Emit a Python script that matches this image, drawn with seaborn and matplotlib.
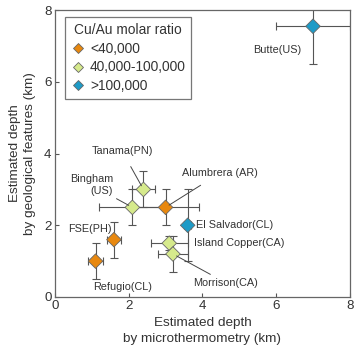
import numpy as np
import pandas as pd
import matplotlib
matplotlib.use("Agg")
import matplotlib.pyplot as plt
import seaborn as sns

# data
names = ["Refugio(CL)", "FSE(PH)", "Bingham(US)", "Tanama(PN)", "Alumbrera (AR)",
         "El Salvador(CL)", "Island Copper(CA)", "Morrison(CA)", "Butte(US)"]
depth_micro = [1.1, 1.6, 2.1, 2.4, 3.0, 3.6, 3.1, 3.2, 7.0]
depth_geo = [1.0, 1.6, 2.5, 3.0, 2.5, 2.0, 1.5, 1.2, 7.55]
xerr = [0.2, 0.2, 0.9, 0.3, 0.9, 0.1, 0.5, 0.4, 1.0]
yerr = [0.5, 0.5, 0.5, 0.5, 0.5, 1.0, 0.2, 0.5, 1.05]
ratio = ["<40,000", "<40,000", "40,000-100,000", "40,000-100,000", "<40,000",
         ">100,000", "40,000-100,000", "40,000-100,000", ">100,000"]
classes = ["<40,000", "40,000-100,000", ">100,000"]
colors = ["#E8880F", "#D6EA8C", "#1E9BC7"]

df = pd.DataFrame({"name": names, "x": depth_micro, "y": depth_geo,
                   "xerr": xerr, "yerr": yerr, "ratio": ratio})

sns.set_style("ticks")
plt.rcParams['font.family'] = ['Liberation Sans', 'DejaVu Sans']

fig = plt.figure(figsize=(3.57, 3.49), dpi=100)
ax = fig.add_axes([0.154, 0.149, 0.826, 0.822])

ax.errorbar(df["x"], df["y"], xerr=df["xerr"], yerr=df["yerr"], fmt="none",
            ecolor="#555555", elinewidth=0.8, capsize=3, capthick=0.8, zorder=1)
sns.scatterplot(data=df, x="x", y="y", hue="ratio", hue_order=classes,
                palette=colors, marker="D", s=55, edgecolor="#666666",
                linewidth=0.6, ax=ax, zorder=3, legend=True)

# labels
fs = 7.8
lc = "#444444"
ax.annotate("Tanama(PN)", xy=(2.4, 3.0), xytext=(1.82, 4.07), fontsize=fs,
            ha="center", va="center", color="#333333",
            arrowprops=dict(arrowstyle="-", color=lc, lw=0.7, shrinkA=6, shrinkB=3))
ax.annotate("Bingham\n(US)", xy=(2.1, 2.5), xytext=(1.58, 3.12), fontsize=fs,
            ha="right", va="center", color="#333333", linespacing=1.3,
            arrowprops=dict(arrowstyle="-", color=lc, lw=0.7, shrinkA=0, shrinkB=3))
ax.annotate("Alumbrera (AR)", xy=(3.0, 2.5), xytext=(3.44, 3.45), fontsize=fs,
            ha="left", va="center", color="#333333",
            arrowprops=dict(arrowstyle="-", color=lc, lw=0.7, shrinkA=5, shrinkB=3))
ax.annotate("Morrison(CA)", xy=(3.2, 1.2), xytext=(3.75, 0.4), fontsize=fs,
            ha="left", va="center", color="#333333",
            arrowprops=dict(arrowstyle="-", color=lc, lw=0.7, shrinkA=0, shrinkB=3))
ax.text(3.83, 2.0, "El Salvador(CL)", fontsize=fs, ha="left", va="center", color="#333333")
ax.text(3.77, 1.5, "Island Copper(CA)", fontsize=fs, ha="left", va="center", color="#333333")
ax.text(1.54, 1.9, "FSE(PH)", fontsize=fs, ha="right", va="center", color="#333333")
ax.text(1.82, 0.27, "Refugio(CL)", fontsize=fs, ha="center", va="center", color="#333333")
ax.text(6.04, 6.9, "Butte(US)", fontsize=fs, ha="center", va="center", color="#333333")

ax.set_xlim(0, 8)
ax.set_ylim(0, 8)
ax.set_xticks([0, 2, 4, 6, 8])
ax.set_yticks([0, 2, 4, 6, 8])
ax.tick_params(direction="in", length=3, width=0.8, labelsize=9.6, colors="#555555",
               labelcolor="#333333", pad=2.5)
for sp in ax.spines.values():
    sp.set_color("#666666")
    sp.set_linewidth(0.9)
ax.set_xlabel("Estimated depth\nby microthermometry (km)", fontsize=9.7, color="#333333",
              linespacing=1.4, labelpad=3.5)
ax.set_ylabel("Estimated depth\nby geological features (km)", fontsize=9.7, color="#333333",
              linespacing=1.3, labelpad=6)

leg = ax.legend(title="Cu/Au molar ratio", loc="upper left", bbox_to_anchor=(0.035, 0.975),
                fontsize=9.9, title_fontsize=9.9, frameon=True, fancybox=False,
                handletextpad=0.4, borderpad=0.4, labelspacing=0.35, handlelength=1.0,
                markerscale=0.75, borderaxespad=0)
leg.get_frame().set_edgecolor("#555555")
leg.get_frame().set_linewidth(0.9)
for t in leg.get_texts():
    t.set_color("#333333")
leg.get_title().set_color("#333333")

fig.savefig("out.png", dpi=100)
